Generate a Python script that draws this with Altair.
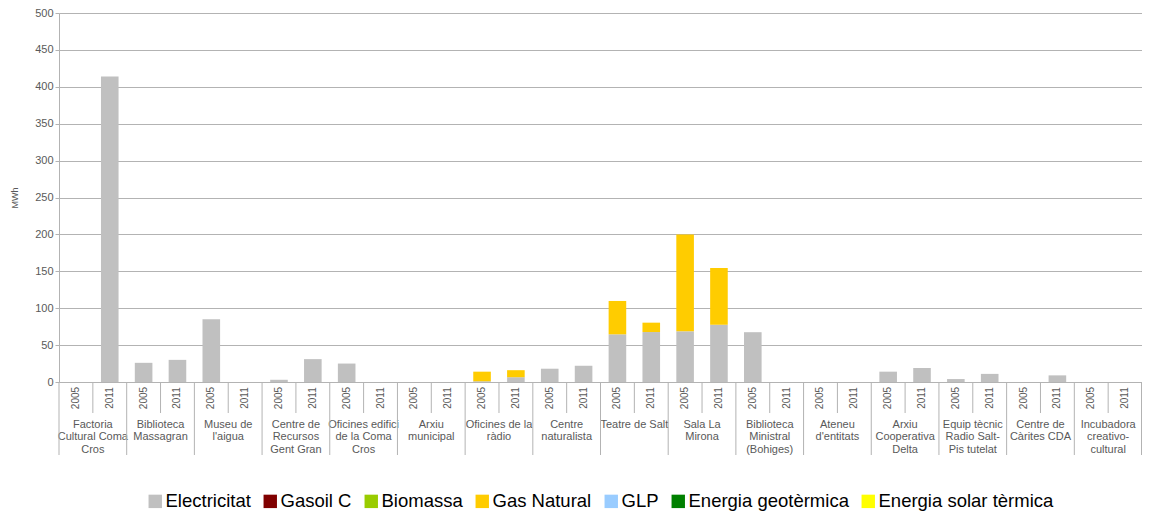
import altair as alt
import pandas as pd

groups = [
    "Factoria|Cultural Coma|Cros",
    "Biblioteca|Massagran",
    "Museu de|l'aigua",
    "Centre de|Recursos|Gent Gran",
    "Oficines edifici|de la Coma|Cros",
    "Arxiu|municipal",
    "Oficines de la|ràdio",
    "Centre|naturalista",
    "Teatre de Salt",
    "Sala La|Mirona",
    "Biblioteca|Ministral|(Bohiges)",
    "Ateneu|d'entitats",
    "Arxiu|Cooperativa|Delta",
    "Equip tècnic|Radio Salt-|Pis tutelat",
    "Centre de|Càrites CDA",
    "Incubadora|creativo-|cultural",
]
years = ["2005", "2011"]

elec_2005 = [0, 26, 85, 3, 25, 0, 1, 18, 64.6, 68.7, 67.5, 0, 14, 4, 0, 0]
elec_2011 = [414, 30, 0, 31, 0, 0, 6.5, 22, 67.7, 77.7, 0, 0, 19, 11, 9, 0]
gas_2005 = [0, 0, 0, 0, 0, 0, 13, 0, 45.2, 131.3, 0, 0, 0, 0, 0, 0]
gas_2011 = [0, 0, 0, 0, 0, 0, 9.5, 0, 12.7, 76.8, 0, 0, 0, 0, 0, 0]

categories = ["Electricitat", "Gasoil C", "Biomassa", "Gas Natural", "GLP",
              "Energia geotèrmica", "Energia solar tèrmica"]
colors = ["#c0c0c0", "#800000", "#99cc00", "#ffcc00", "#99ccff", "#008000", "#ffff00"]

series = {
    ("Electricitat", "2005"): elec_2005,
    ("Electricitat", "2011"): elec_2011,
    ("Gas Natural", "2005"): gas_2005,
    ("Gas Natural", "2011"): gas_2011,
}

rows = []
for (cat, yr), vals in series.items():
    for g, v in zip(groups, vals):
        rows.append({"group": g, "year": yr, "category": cat, "value": v,
                     "order": categories.index(cat)})
df = pd.DataFrame(rows)

lab_df = pd.DataFrame([{"group": g, "year": y} for g in groups for y in years])
grp_df = pd.DataFrame({"group": groups})

W, H = 1083, 369
GRAY = "#b3b3b3"
TXT = "#595959"

x_axis = alt.Axis(title=None, ticks=False, labelAngle=0, labelPadding=36,
                  labelExpr="split(datum.label, '|')", labelFontSize=11,
                  labelColor=TXT, labelLineHeight=12.5, labelLimit=0,
                  labelOverlap=False, labelBound=False, labelBaseline="top",
                  domain=True, domainColor=GRAY)
x_scale = alt.Scale(paddingInner=0, paddingOuter=0)
xo_scale = alt.Scale(paddingInner=0.48, paddingOuter=0.24)

bars = alt.Chart(df).mark_bar().encode(
    x=alt.X("group:N", sort=groups, scale=x_scale, axis=x_axis),
    xOffset=alt.XOffset("year:N", sort=years, scale=xo_scale),
    y=alt.Y("value:Q", stack="zero", scale=alt.Scale(domain=[0, 500]),
            axis=alt.Axis(values=list(range(0, 501, 50)), title="MWh",
                          titleFontSize=9, titleFontWeight="normal", titleColor=TXT,
                          titlePadding=15, labelFontSize=11, labelColor=TXT,
                          tickColor=GRAY, tickSize=4, domainColor=GRAY,
                          gridColor=GRAY)),
    color=alt.Color("category:N", scale=alt.Scale(domain=categories, range=colors),
                    legend=alt.Legend(title=None, orient="none", direction="horizontal",
                                      legendX=87, legendY=479,
                                      symbolType="square", symbolSize=180,
                                      symbolStrokeWidth=0, labelFontSize=18.5,
                                      labelColor="#000000", labelFont="Liberation Sans",
                                      columnPadding=10, labelOffset=1, labelLimit=0)),
    order=alt.Order("order:Q"),
)

year_text = alt.Chart(lab_df).mark_text(angle=270, fontSize=10, color=TXT,
                                        align="center", baseline="middle").encode(
    x=alt.X("group:N", sort=groups, scale=x_scale, axis=x_axis),
    xOffset=alt.XOffset("year:N", sort=years, scale=xo_scale),
    y=alt.value(H + 16),
    text="year:N",
)

long_rules = alt.Chart(grp_df).mark_rule(color=GRAY).encode(
    x=alt.X("group:N", sort=groups, scale=x_scale, axis=x_axis, bandPosition=0),
    y=alt.value(H),
    y2=alt.value(H + 73),
)
end_rule = alt.Chart(grp_df).mark_rule(color=GRAY).encode(
    x=alt.value(W), y=alt.value(H), y2=alt.value(H + 73),
)
short_rules = alt.Chart(grp_df).mark_rule(color=GRAY).encode(
    x=alt.X("group:N", sort=groups, scale=x_scale, axis=x_axis, bandPosition=0.5),
    y=alt.value(H),
    y2=alt.value(H + 31),
)

chart = alt.layer(bars, long_rules, end_rule, short_rules, year_text).properties(
    width=W, height=H,
    autosize=alt.AutoSizeParams(type="none"),
    padding={"left": 51, "top": 5, "right": 0, "bottom": 140},
).configure_view(stroke=None).configure(font="Liberation Sans")

chart.save("out.html", embed_options={"renderer": "svg", "actions": False})
